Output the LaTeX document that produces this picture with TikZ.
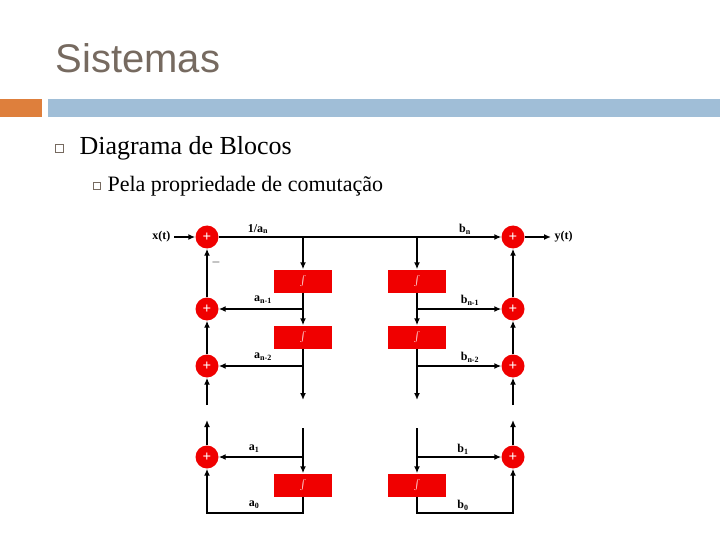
\documentclass[tikz,border=0pt]{standalone}
\usepackage{fontspec}
\setmainfont{Liberation Serif}
\newfontfamily\titlefont{Liberation Sans}
\usetikzlibrary{arrows.meta}
\definecolor{tcol}{RGB}{118,106,96}
\definecolor{obar}{RGB}{222,127,60}
\definecolor{bbar}{RGB}{160,190,215}
\definecolor{rd}{RGB}{240,0,0}
\begin{document}
\begin{tikzpicture}[x=1pt,y=-1pt,
 add/.style={circle,fill=rd,minimum size=23pt,inner sep=0pt,text=white,font=\bfseries\fontsize{15}{15}\selectfont},
 intg/.style={rectangle,fill=rd,minimum width=58pt,minimum height=23pt,inner sep=0pt,text=white,font=\fontsize{14}{14}\selectfont},
 ln/.style={line width=2.2pt},
 ar/.style={ln,-{Latex[length=7pt,width=6pt]}},
 lb/.style={font=\bfseries\fontsize{12}{12}\selectfont}]
\useasboundingbox (0,0) rectangle (720,540);
\node[anchor=west,text=tcol,font=\titlefont\fontsize{40}{40}\selectfont] (title) at (52,58) {Sistemas};
\fill[obar] (0,99) rectangle (42,117);
\fill[bbar] (48,99) rectangle (720,117);
\node[draw=tcol,line width=0.8pt,minimum size=8pt,inner sep=0pt] (b1) at (59,148) {};
\node[anchor=west,font=\fontsize{26}{26}\selectfont] (t1) at (76,148) {Diagrama de Blocos};
\node[draw=tcol,line width=0.6pt,minimum size=7pt,inner sep=0pt] (b2) at (97,186) {};
\node[anchor=west,font=\fontsize{22}{22}\selectfont] (t2) at (104,186) {Pela propriedade de comutação};
% adders
\node[add] (L0) at (207,237) {+};
\node[add] (L1) at (207,309) {+};
\node[add] (L2) at (207,366) {+};
\node[add] (L3) at (207,457) {+};
\node[add] (R0) at (513,237) {+};
\node[add] (R1) at (513,309) {+};
\node[add] (R2) at (513,366) {+};
\node[add] (R3) at (513,457) {+};
% integrators
\node[intg] (I1) at (303,281) {$\int$};
\node[intg] (I2) at (303,337) {$\int$};
\node[intg] (I3) at (303,485) {$\int$};
\node[intg] (J1) at (417,281) {$\int$};
\node[intg] (J2) at (417,337) {$\int$};
\node[intg] (J3) at (417,485) {$\int$};
% io
\node[lb,anchor=east] (x) at (174,237) {x(t)};
\node[lb,anchor=west] (y) at (551,237) {y(t)};
\draw[ar] (x) -- (L0);
\draw[ar] (R0) -- (y);
\coordinate (T1) at (303,237); \coordinate (T2) at (417,237);
\draw[ln] (L0) -- (T2);
\draw[ar] (T2) -- (R0);
\draw[ar] (T1) -- (I1); \draw[ar] (T2) -- (J1);
\draw[ar] (I1) -- (I2); \draw[ar] (J1) -- (J2);
\coordinate (La) at (303,309); \coordinate (Lb) at (303,366);
\coordinate (Ra) at (417,309); \coordinate (Rb) at (417,366);
\draw[ar] (La) -- (L1); \draw[ar] (Lb) -- (L2);
\draw[ar] (Ra) -- (R1); \draw[ar] (Rb) -- (R2);
\coordinate (Le) at (303,400); \coordinate (Re) at (417,400);
\draw[ar] (I2) -- (Le); \draw[ar] (J2) -- (Re);
\coordinate (Ls) at (303,428); \coordinate (Rs) at (417,428);
\coordinate (Lc) at (303,457); \coordinate (Rc) at (417,457);
\draw[ar] (Ls) -- (I3); \draw[ar] (Rs) -- (J3);
\draw[ar] (Lc) -- (L3); \draw[ar] (Rc) -- (R3);
\coordinate (Lbot) at (303,513); \coordinate (Rbot) at (417,513);
\coordinate (Lcor) at (207,513); \coordinate (Rcor) at (513,513);
\draw[ar] (I3) -- (Lbot) -- (Lcor) -- (L3);
\draw[ar] (J3) -- (Rbot) -- (Rcor) -- (R3);
% adder column
\draw[ar] (L1) -- (L0); \draw[ar] (L2) -- (L1);
\draw[ar] (R1) -- (R0); \draw[ar] (R2) -- (R1);
\coordinate (Lu) at (207,405); \coordinate (Ru) at (513,405);
\coordinate (Lv) at (207,420); \coordinate (Rv) at (513,420);
\draw[ar] (Lu) -- (L2); \draw[ar] (Ru) -- (R2);
\draw[ar] (L3) -- (Lv); \draw[ar] (R3) -- (Rv);
% labels
\node[lb] (m) at (216,262) {$-$};
\node[lb] (g0) at (258,229) {1/a\textsubscript{n}};
\node[lb] (g1) at (263,300) {a\textsubscript{n-1}};
\node[lb] (g2) at (263,357) {a\textsubscript{n-2}};
\node[lb] (g3) at (254,449) {a\textsubscript{1}};
\node[lb] (g4) at (254,505) {a\textsubscript{0}};
\node[lb] (h0) at (465,229) {b\textsubscript{n}};
\node[lb] (h1) at (470,300) {b\textsubscript{n-1}};
\node[lb] (h2) at (470,357) {b\textsubscript{n-2}};
\node[lb] (h3) at (463,449) {b\textsubscript{1}};
\node[lb] (h4) at (463,505) {b\textsubscript{0}};
\end{tikzpicture}
\end{document}
